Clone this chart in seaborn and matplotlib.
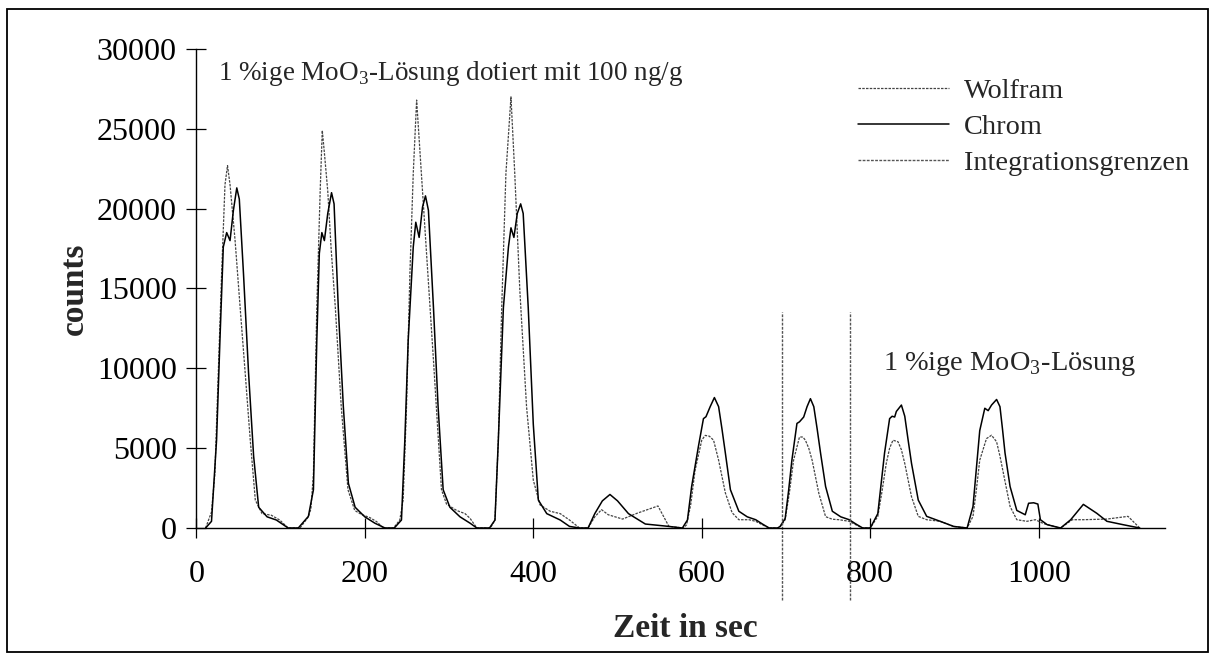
import numpy as np
import pandas as pd
import seaborn as sns
import matplotlib
matplotlib.use("Agg")
import matplotlib.pyplot as plt
from matplotlib.patches import Rectangle

# Wolfram (dotted trace)
w_time = [11, 18, 22, 26, 30, 34, 37, 40, 46, 52, 58, 64, 70, 78, 89, 99, 109, 123, 133,
          136, 139, 143, 147, 149.5, 152, 156, 160, 165, 172, 180, 188, 196, 206, 214, 222, 234,
          241.5, 245.5, 249.5, 253.5, 257.5, 261.5, 267.5, 273.5, 281.5, 291, 297, 309, 319, 325, 333, 349,
          354.5, 358.5, 362.5, 367.5, 373.5, 378, 384, 392, 400, 408, 420, 432, 443, 455, 465,
          473, 481, 489, 506, 524, 548, 561, 578,
          582, 587, 592, 600, 604, 609, 614, 620, 628, 636, 644, 656, 664, 672, 680, 692,
          699, 704, 709, 716, 720, 723, 727, 731, 739, 747, 755, 763, 775, 783, 791, 800,
          809, 814, 819, 823, 827, 833, 837, 841, 849, 857, 867, 883, 899, 915,
          922, 926, 930, 938, 944, 950, 954, 958, 966, 974, 986, 996, 1006, 1026, 1040, 1053, 1081, 1106, 1120]
w_counts = [0, 1000, 3400, 9700, 15900, 21500, 22700, 21500, 18000, 13800, 9700, 5500, 1750, 900, 800, 500, 0, 0, 700,
            1200, 3400, 13800, 21100, 24900, 23500, 21100, 17500, 13800, 7600, 2400, 1100, 850, 650, 400, 0, 0,
            500, 1750, 7600, 15900, 22200, 26800, 21900, 17000, 10500, 2400, 1500, 1100, 900, 600, 0, 0,
            500, 5500, 13800, 22200, 27000, 22200, 14900, 7600, 3000, 1450, 1050, 900, 500, 0, 0,
            700, 1150, 830, 560, 940, 1380, 100, 0,
            200, 1500, 3600, 5500, 5800, 5750, 5500, 4250, 2200, 960, 520, 520, 420, 200, 0, 0,
            520, 2200, 4250, 5700, 5700, 5500, 5000, 4250, 2170, 710, 550, 520, 420, 200, 0, 0,
            730, 2300, 4040, 5000, 5500, 5400, 4900, 4040, 1960, 730, 520, 420, 100, 0,
            730, 2400, 4250, 5600, 5810, 5400, 4500, 3440, 1350, 520, 420, 520, 270, 0, 520, 520, 560, 730, 0]

# Chrom (solid trace)
c_time = [11, 18, 24, 28, 32, 36, 40, 44, 48, 51, 56, 62, 68, 74, 84, 95, 109, 121, 133,
          139, 143, 146, 149, 152, 156, 160.5, 163.5, 168.5, 174.5, 180.5, 188.5, 200, 212, 224, 235,
          243.5, 247.5, 251.5, 257.5, 260.5, 264.5, 268.5, 272, 275.5, 281.5, 287, 293, 301, 313, 325, 333, 348,
          354.5, 358.5, 364.5, 370.5, 373.5, 377, 381, 385, 388, 394, 400, 406, 416, 432, 443, 455, 465,
          473, 482, 491, 500, 513, 533, 561, 577,
          583, 588, 596, 602, 605, 610, 615, 620, 624, 628, 634, 644, 654, 664, 672, 680, 690,
          693, 699, 703, 707, 713, 716, 721, 725, 729, 733, 737, 741, 747, 755, 765, 775, 783, 791, 800,
          809, 817, 823, 826, 829, 831, 837, 841, 845, 849, 857, 867, 883, 899, 915,
          922, 926, 930, 936, 940, 944, 950, 954, 957, 960, 966, 974, 984, 988, 994, 999, 1002, 1010,
          1026, 1038, 1053, 1069, 1081, 1100, 1120]
c_counts = [0, 420, 5500, 11750, 17600, 18500, 18000, 19900, 21300, 20600, 15900, 9700, 4500, 1300, 700, 500, 0, 0, 730,
            2400, 11750, 17200, 18500, 18000, 19700, 21000, 20300, 13800, 7600, 2800, 1300, 700, 300, 0, 0,
            500, 5500, 11750, 17600, 19150, 18200, 20100, 20800, 19900, 13800, 7600, 2400, 1300, 700, 300, 0, 0,
            500, 5500, 13800, 17600, 18800, 18200, 19700, 20300, 19700, 13800, 6500, 1750, 900, 500, 100, 0, 0,
            900, 1700, 2100, 1700, 900, 250, 100, 0,
            500, 2600, 5100, 6850, 6970, 7600, 8170, 7600, 6200, 4700, 2400, 1050, 700, 520, 250, 0, 0,
            100, 600, 2300, 4250, 6550, 6650, 6950, 7600, 8100, 7600, 6200, 4700, 2600, 1050, 700, 520, 250, 0, 0,
            900, 4700, 6850, 7000, 6950, 7300, 7700, 7000, 5500, 4050, 1750, 730, 420, 100, 0,
            1350, 3700, 6100, 7500, 7350, 7700, 8050, 7600, 6200, 4700, 2600, 1100, 830, 1550, 1580, 1500, 520, 210,
            0, 520, 1480, 920, 420, 210, 0]

# integration limits (sec) and how far the marker lines reach (counts)
limits = [695, 776]
limit_span = [-4500, 13500]

x_ticks = [0, 200, 400, 600, 800, 1000]
y_ticks = [0, 5000, 10000, 15000, 20000, 25000, 30000]

sns.set_style("ticks")
plt.rcParams["font.family"] = ["Liberation Serif", "DejaVu Serif"]

fig = plt.figure(figsize=(12.15, 6.62), dpi=100)
ax = fig.add_axes([0.1616, 0.2024, 0.7973, 0.7236])

wolfram = pd.DataFrame({"t": w_time, "counts": w_counts})
chrom = pd.DataFrame({"t": c_time, "counts": c_counts})

sns.lineplot(data=wolfram, x="t", y="counts", ax=ax, color="#444444",
             linewidth=0.9, linestyle=(0, (2, 1)), label="Wolfram")
sns.lineplot(data=chrom, x="t", y="counts", ax=ax, color="black",
             linewidth=1.1, label="Chrom")
ax.vlines(limits, limit_span[0], limit_span[1], colors="#555555",
          linewidth=1.0, linestyles=(0, (2, 1)), clip_on=False,
          label="Integrationsgrenzen")

ax.set_xlim(0, 1150)
ax.set_ylim(0, 30000)
ax.set_xticks(x_ticks)
ax.set_yticks(y_ticks)
ax.tick_params(direction="inout", length=14, width=0.9, labelsize=23, colors="black")
ax.tick_params(axis="x", pad=16)
ax.tick_params(axis="y", pad=7)
sns.despine(ax=ax)
for s in ("left", "bottom"):
    ax.spines[s].set_linewidth(1.0)
    ax.spines[s].set_color("black")

ax.set_xlabel("Zeit in sec", fontsize=24, fontweight="bold")
ax.set_ylabel("counts", fontsize=24, fontweight="bold")
ax.xaxis.set_label_coords(0.505, -0.178)
ax.yaxis.set_label_coords(-0.11, 0.5)

ax.text(0.0224, 0.935, r"1 %ige MoO$_\mathregular{3}$-Lösung dotiert mit 100 ng/g",
        transform=ax.transAxes, fontsize=19.5, ha="left", va="baseline")
ax.text(0.709, 0.33, r"1 %ige MoO$_\mathregular{3}$-Lösung",
        transform=ax.transAxes, fontsize=20.4, ha="left", va="baseline")

ax.legend(loc="upper left", bbox_to_anchor=(0.683, 0.94), frameon=False,
          fontsize=20.4, handlelength=3.2, handletextpad=0.55,
          labelspacing=0.37, borderpad=0, borderaxespad=0)

fig.patches.append(Rectangle((0.006, 0.015), 0.988, 0.971, transform=fig.transFigure,
                             fill=False, edgecolor="black", linewidth=1.3))

fig.savefig("out.png", dpi=100)
